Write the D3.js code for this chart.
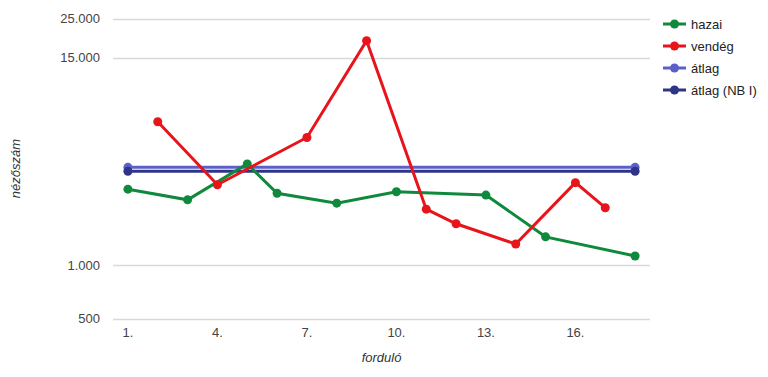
<!DOCTYPE html>
<html>
<head>
<meta charset="utf-8">
<script src="https://cdn.jsdelivr.net/npm/d3@7"></script>
<style>
  body { margin: 0; background: #fff; }
  text { font-family: "Liberation Sans", Arial, sans-serif; }
</style>
</head>
<body>
<div id="chart"></div>
<script>
// rounds 1..18
var rounds = d3.range(1, 19);
var tickRounds = [1, 4, 7, 10, 13, 16];
var yTicks = [500, 1000, 15000, 25000];

// null = no match that round
var hazai = [2700, null, 2350, null, 3750, 2560, null, 2250, null, 2610, null, null, 2500, null, 1450, null, null, 1130];
var vendeg = [null, 6500, null, 2860, null, null, 5300, null, 18700, null, 2080, 1720, null, 1320, null, 2940, 2120, null];
var atlag = [3590, null, null, null, null, null, null, null, null, null, null, null, null, null, null, null, null, 3590];
var atlagNB = [3410, null, null, null, null, null, null, null, null, null, null, null, null, null, null, null, null, 3410];

var seriesNames = ["hazai", "vendég", "átlag", "átlag (NB I)"];
var seriesValues = [hazai, vendeg, atlag, atlagNB];
var colors = ["#0f8a3d", "#e8141b", "#5b60c9", "#2f3487"];

var width = 768, height = 377;
var margin = {top: 18.5, left: 113, right: 118, bottom: 58.5};

var svg = d3.select("#chart").append("svg")
    .attr("width", width)
    .attr("height", height);

var x = d3.scaleBand()
    .domain(rounds)
    .range([margin.left, width - margin.right]);

var y = d3.scaleLog()
    .domain([500, 25000])
    .range([height - margin.bottom, margin.top]);

var fmt = d3.format(",");
var huFmt = function(d) { return fmt(d).replace(/,/g, "."); };

// gridlines
svg.append("g")
    .selectAll("line")
    .data(yTicks)
    .enter()
    .append("line")
    .attr("x1", margin.left)
    .attr("x2", width - margin.right)
    .attr("y1", function(d) { return Math.round(y(d)) + 0.5; })
    .attr("y2", function(d) { return Math.round(y(d)) + 0.5; })
    .style("stroke", "#d9d9d9")
    .style("stroke-width", "1.3px");

// y labels
svg.append("g")
    .selectAll("text")
    .data(yTicks)
    .enter()
    .append("text")
    .attr("x", 100)
    .attr("y", function(d) { return y(d) + 4.5; })
    .attr("text-anchor", "end")
    .style("font-size", "13px")
    .style("fill", "#444")
    .text(huFmt);

// x labels
svg.append("g")
    .selectAll("text")
    .data(tickRounds)
    .enter()
    .append("text")
    .attr("x", function(d) { return x(d) + x.bandwidth() / 2; })
    .attr("y", 337)
    .attr("text-anchor", "middle")
    .style("font-size", "13px")
    .style("fill", "#444")
    .text(function(d) { return d + "."; });

// axis titles
svg.append("text")
    .attr("x", (margin.left + width - margin.right) / 2)
    .attr("y", 362)
    .attr("text-anchor", "middle")
    .style("font-size", "13px")
    .style("font-style", "italic")
    .style("fill", "#333")
    .text("forduló");

svg.append("text")
    .attr("transform", "translate(20," + (margin.top + (height - margin.bottom - margin.top) / 2) + ") rotate(-90)")
    .attr("text-anchor", "middle")
    .style("font-size", "13px")
    .style("font-style", "italic")
    .style("fill", "#333")
    .text("nézőszám");

var cx = function(i) { return x(rounds[i]) + x.bandwidth() / 2; };

var line = d3.line()
    .x(function(d) { return cx(d.i); })
    .y(function(d) { return y(d.v); });

// draw the average lines first, then home/away on top
var order = [2, 3, 0, 1];
order.forEach(function(s) {
    var pts = [];
    seriesValues[s].forEach(function(v, i) {
        if (v != null) pts.push({i: i, v: v});
    });
    var g = svg.append("g");
    g.append("path")
        .datum(pts)
        .attr("d", line)
        .style("fill", "none")
        .style("stroke", colors[s])
        .style("stroke-width", "3px");
    g.selectAll("circle")
        .data(pts)
        .enter()
        .append("circle")
        .attr("cx", function(d) { return cx(d.i); })
        .attr("cy", function(d) { return y(d.v); })
        .attr("r", 4.5)
        .style("fill", colors[s]);
});

// legend
var legend = svg.append("g")
    .selectAll("g")
    .data(seriesNames)
    .enter()
    .append("g")
    .attr("transform", function(d, i) { return "translate(663," + (24 + i * 22) + ")"; });

legend.append("line")
    .attr("x1", 0).attr("x2", 23)
    .attr("y1", 0).attr("y2", 0)
    .style("stroke", function(d, i) { return colors[i]; })
    .style("stroke-width", "3px");

legend.append("circle")
    .attr("cx", 11.5).attr("cy", 0).attr("r", 4.5)
    .style("fill", function(d, i) { return colors[i]; });

legend.append("text")
    .attr("x", 28)
    .attr("y", 4.5)
    .style("font-size", "13px")
    .style("fill", "#222")
    .text(function(d) { return d; });
</script>
</body>
</html>
